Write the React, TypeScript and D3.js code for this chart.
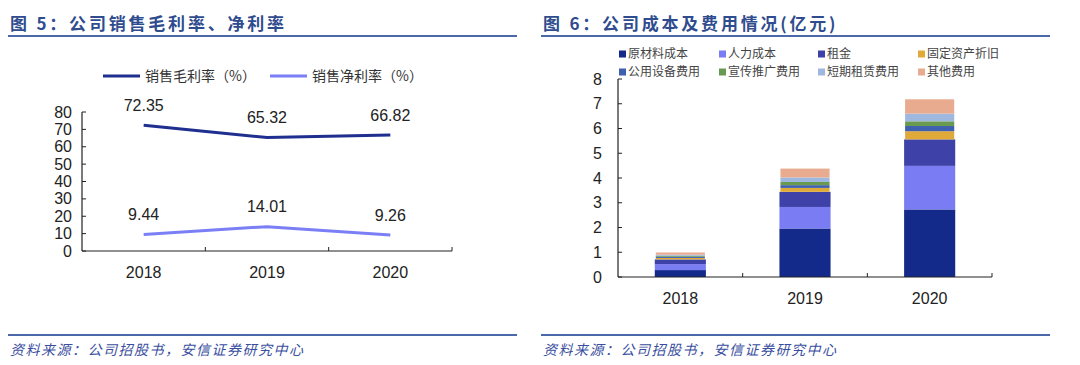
import React, { useEffect, useRef } from 'react';
import * as d3 from 'd3';

const years = ['2018', '2019', '2020'];
const grossMargin = [72.35, 65.32, 66.82];
const netMargin = [9.44, 14.01, 9.26];
const lineSeries = ['销售毛利率（%）', '销售净利率（%）'];

const costKeys = ['原材料成本', '人力成本', '租金', '固定资产折旧', '公用设备费用', '宣传推广费用', '短期租赁费用', '其他费用'];
const rawMaterial = [0.28, 1.96, 2.73];
const labour = [0.24, 0.87, 1.76];
const rent = [0.19, 0.61, 1.07];
const depreciation = [0.06, 0.16, 0.33];
const utilities = [0.05, 0.11, 0.21];
const promotion = [0.04, 0.13, 0.19];
const shortLease = [0.04, 0.18, 0.31];
const otherCost = [0.09, 0.36, 0.58];
const costColors = ['#132a8a', '#7a7cf4', '#3e41a8', '#e0aa3a', '#3f5fb0', '#6a9a50', '#9fb8e0', '#e8ab90'];

const FONT = 'Liberation Sans, Arial, sans-serif';
const CJK = '"Noto Sans CJK SC", sans-serif';

export default function App() {
  const ref = useRef<SVGSVGElement>(null);

  useEffect(() => {
    const svg = d3.select(ref.current);
    svg.selectAll('*').remove();

    // titles, rules, footers
    const titles = [
      { x: 10, x1: 8, x2: 517, t: '图 5：公司销售毛利率、净利率' },
      { x: 543, x1: 541, x2: 1050, t: '图 6：公司成本及费用情况(亿元)' },
    ];
    titles.forEach(d => {
      svg.append('text').attr('x', d.x).attr('y', 30).text(d.t)
        .style('font-family', CJK).style('font-size', '17px').style('font-weight', 'bold')
        .style('fill', '#2f4c8e').style('letter-spacing', '2.8px');
      svg.append('line').attr('x1', d.x1).attr('x2', d.x2).attr('y1', 36).attr('y2', 36)
        .attr('stroke', '#4a68aa').attr('stroke-width', 2);
      svg.append('line').attr('x1', d.x1).attr('x2', d.x2).attr('y1', 335).attr('y2', 335)
        .attr('stroke', '#4a68aa').attr('stroke-width', 2);
      svg.append('text').attr('x', d.x).attr('y', 355).text('资料来源：公司招股书，安信证券研究中心')
        .style('font-family', CJK).style('font-size', '14px').style('font-style', 'italic')
        .style('fill', '#3a4ea0').style('letter-spacing', '1.5px');
    });

    // ---- left: line chart
    const lx = d3.scaleBand().domain(years).range([82, 452]);
    const ly = d3.scaleLinear().domain([0, 80]).range([251, 112]);
    const left = svg.append('g');

    left.append('line').attr('x1', 82).attr('x2', 82).attr('y1', ly(80)).attr('y2', ly(0)).attr('stroke', '#222').attr('stroke-width', 1.2);
    left.append('line').attr('x1', 82).attr('x2', 452).attr('y1', ly(0)).attr('y2', ly(0)).attr('stroke', '#222').attr('stroke-width', 1.2);
    ly.ticks(8).forEach(t => {
      left.append('line').attr('x1', 82).attr('x2', 86).attr('y1', ly(t)).attr('y2', ly(t)).attr('stroke', '#222');
      left.append('text').attr('x', 72).attr('y', ly(t)).attr('dy', '0.35em').attr('text-anchor', 'end')
        .text(t).style('font-family', FONT).style('font-size', '16px').style('fill', '#222');
    });
    years.forEach((y, i) => {
      const bx = lx(y)! + lx.bandwidth();
      left.append('line').attr('x1', bx).attr('x2', bx).attr('y1', ly(0)).attr('y2', ly(0) - 4).attr('stroke', '#222');
      left.append('text').attr('x', lx(y)! + lx.bandwidth() / 2).attr('y', 272).attr('dy', '0.35em').attr('text-anchor', 'middle')
        .text(y).style('font-family', FONT).style('font-size', '16px').style('fill', '#222');
    });

    const lineGen = d3.line<number>().x((_, i) => lx(years[i])! + lx.bandwidth() / 2).y(d => ly(d));
    [grossMargin, netMargin].forEach((vals, k) => {
      const color = k === 0 ? '#1f2f8f' : '#7b7ff5';
      left.append('path').attr('d', lineGen(vals)!).attr('fill', 'none').attr('stroke', color).attr('stroke-width', 3);
      vals.forEach((v, i) => {
        left.append('text').attr('x', lx(years[i])! + lx.bandwidth() / 2).attr('y', ly(v) - 20).attr('dy', '0.35em')
          .attr('text-anchor', 'middle').text(v.toFixed(2))
          .style('font-family', FONT).style('font-size', '16px').style('fill', '#222');
      });
      const lgx = k === 0 ? 103 : 270;
      left.append('line').attr('x1', lgx).attr('x2', lgx + 37).attr('y1', 76).attr('y2', 76).attr('stroke', color).attr('stroke-width', 3);
      left.append('text').attr('x', lgx + 42).attr('y', 76).attr('dy', '0.35em').text(lineSeries[k])
        .style('font-family', CJK).style('font-size', '14px').style('fill', '#333');
    });

    // ---- right: stacked bars
    const rows = years.map((y, i) => ({
      year: y,
      原材料成本: rawMaterial[i], 人力成本: labour[i], 租金: rent[i], 固定资产折旧: depreciation[i],
      公用设备费用: utilities[i], 宣传推广费用: promotion[i], 短期租赁费用: shortLease[i], 其他费用: otherCost[i],
    }));
    const stack = d3.stack<any>().keys(costKeys)(rows);
    const rx = d3.scaleBand().domain(years).range([618, 992]).paddingInner(0.59).paddingOuter(0.295);
    const ry = d3.scaleLinear().domain([0, 8]).range([277, 79]);
    const right = svg.append('g');

    stack.forEach((layer, k) => {
      right.selectAll(null).data(layer).enter().append('rect')
        .attr('x', d => rx(d.data.year)! + (k < 3 ? 0 : 1))
        .attr('width', rx.bandwidth() - (k < 3 ? 0 : 2))
        .attr('y', d => ry(d[1]))
        .attr('height', d => ry(d[0]) - ry(d[1]))
        .attr('fill', costColors[k]);
    });

    right.append('line').attr('x1', 618).attr('x2', 618).attr('y1', ry(8)).attr('y2', ry(0)).attr('stroke', '#222').attr('stroke-width', 1.2);
    right.append('line').attr('x1', 618).attr('x2', 992).attr('y1', ry(0)).attr('y2', ry(0)).attr('stroke', '#222').attr('stroke-width', 1.2);
    ry.ticks(8).forEach(t => {
      right.append('line').attr('x1', 618).attr('x2', 622).attr('y1', ry(t)).attr('y2', ry(t)).attr('stroke', '#222');
      right.append('text').attr('x', 602).attr('y', ry(t)).attr('dy', '0.35em').attr('text-anchor', 'end')
        .text(t).style('font-family', FONT).style('font-size', '16px').style('fill', '#222');
    });
    const step = (992 - 618) / years.length;
    years.forEach((y, i) => {
      const bx = 618 + step * (i + 1);
      right.append('line').attr('x1', bx).attr('x2', bx).attr('y1', ry(0)).attr('y2', ry(0) - 4).attr('stroke', '#222');
      right.append('text').attr('x', rx(y)! + rx.bandwidth() / 2).attr('y', 298).attr('dy', '0.35em').attr('text-anchor', 'middle')
        .text(y).style('font-family', FONT).style('font-size', '16px').style('fill', '#222');
    });

    const legendX = [619, 719, 818, 918];
    costKeys.forEach((key, k) => {
      const gx = legendX[k % 4];
      const gy = k < 4 ? 54 : 72;
      right.append('rect').attr('x', gx).attr('y', gy - 3.5).attr('width', 7).attr('height', 7).attr('fill', costColors[k]);
      right.append('text').attr('x', gx + 9).attr('y', gy).attr('dy', '0.35em').text(key)
        .style('font-family', CJK).style('font-size', '12px').style('fill', '#444');
    });
  }, []);

  return (
    <svg ref={ref} width={1080} height={365}
      style={{ position: 'absolute', left: 0, top: 0, background: '#fff' }} />
  );
}
